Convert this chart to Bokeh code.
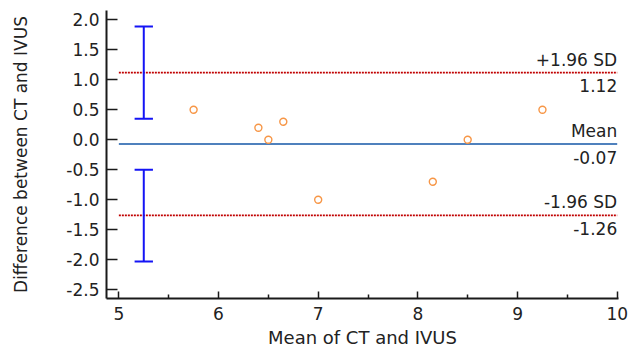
from bokeh.plotting import figure
from bokeh.models import Range1d, FixedTicker, ColumnDataSource
from bokeh.core.properties import value
from bokeh.embed import file_html
from bokeh.resources import INLINE

# ---- data ----
mean_ct_ivus = [5.75, 6.4, 6.5, 6.65, 7.0, 8.15, 8.5, 9.25]
diff_ct_ivus = [0.5, 0.2, 0.0, 0.3, -1.0, -0.7, 0.0, 0.5]

limit_names = ["+1.96 SD", "Mean", "-1.96 SD"]
limit_values = [1.12, -0.07, -1.26]
limit_x_start = 5
limit_x_end = 10

ci_x = 5.25
ci_low = [0.35, -2.03]
ci_high = [1.89, -0.5]
ci_cap_half = 0.092

x_ticks = [5, 6, 7, 8, 9, 10]
x_minor_ticks = [5.5, 6.5, 7.5, 8.5, 9.5]
x_tick_labels = ["5", "6", "7", "8", "9", "10"]
y_ticks = [2.0, 1.5, 1.0, 0.5, 0.0, -0.5, -1.0, -1.5, -2.0, -2.5]
y_tick_labels = ["2.0", "1.5", "1.0", "0.5", "0.0", "-0.5", "-1.0", "-1.5", "-2.0", "-2.5"]

x_title = "Mean of CT and IVUS"
y_title = "Difference between CT and IVUS"

FONT = "DejaVu Sans"
TXT = "#222222"

p = figure(width=631, height=352,
           x_range=Range1d(4.876, 10.013), y_range=Range1d(-2.645, 2.155),
           output_backend="svg", toolbar_location=None,
           min_border_left=106, min_border_right=13,
           min_border_top=10, min_border_bottom=54)
p.outline_line_color = None
p.xgrid.visible = False
p.ygrid.visible = False
p.background_fill_color = "white"
p.border_fill_color = "white"

# x axis
xa = p.xaxis[0]
xa.ticker = FixedTicker(ticks=x_ticks, minor_ticks=x_minor_ticks)
xa.major_label_overrides = dict(zip(x_ticks, x_tick_labels))
xa.axis_line_width = 2
xa.axis_line_color = "#1a1a1a"
xa.major_tick_in = 7
xa.major_tick_out = 0
xa.minor_tick_in = 4
xa.minor_tick_out = 0
xa.major_tick_line_width = 1.5
xa.minor_tick_line_width = 1.5
xa.major_tick_line_color = "#1a1a1a"
xa.minor_tick_line_color = "#1a1a1a"
xa.major_label_standoff = 8
xa.major_label_text_font = FONT
xa.major_label_text_font_size = "17px"
xa.major_label_text_color = TXT
xa.axis_label = x_title
xa.axis_label_standoff = 4
xa.axis_label_text_font = FONT
xa.axis_label_text_font_size = "18px"
xa.axis_label_text_font_style = "normal"
xa.axis_label_text_color = TXT

# y axis
ya = p.yaxis[0]
ya.ticker = FixedTicker(ticks=y_ticks)
ya.major_label_overrides = dict(zip(y_ticks, y_tick_labels))
ya.axis_line_width = 2
ya.axis_line_color = "#1a1a1a"
ya.major_tick_in = 11
ya.major_tick_out = 0
ya.major_tick_line_width = 1.5
ya.major_tick_line_color = "#1a1a1a"
ya.minor_tick_line_color = None
ya.major_label_standoff = 7
ya.major_label_text_font = FONT
ya.major_label_text_font_size = "17px"
ya.major_label_text_color = TXT
ya.axis_label = y_title
ya.axis_label_standoff = 32
ya.axis_label_text_font = FONT
ya.axis_label_text_font_size = "17px"
ya.axis_label_text_font_style = "normal"
ya.axis_label_text_color = TXT

# limit lines
line_colors = ["#C00000", "#4F81BD", "#C00000"]
line_dashes = ["2 1", "solid", "2 1"]
for v, c, d in zip(limit_values, line_colors, line_dashes):
    p.segment(x0=[limit_x_start], y0=[v], x1=[limit_x_end], y1=[v],
              line_color=c, line_width=2 if d == "solid" else 1.6, line_dash=d)

# confidence interval bars
p.segment(x0=[ci_x] * 2, y0=ci_low, x1=[ci_x] * 2, y1=ci_high,
          line_color="#1414F5", line_width=2)
cap_y = ci_low + ci_high
p.segment(x0=[ci_x - ci_cap_half] * 4, y0=cap_y, x1=[ci_x + ci_cap_half] * 4, y1=cap_y,
          line_color="#1414F5", line_width=2)

# data points
p.scatter(x=mean_ct_ivus, y=diff_ct_ivus, marker="circle", size=7,
          fill_color=None, line_color="#F79646", line_width=1.4)

# labels for limit lines
src = ColumnDataSource(dict(x=[limit_x_end] * 3, y=limit_values, name=limit_names,
                            val=[f"{v:.2f}" for v in limit_values]))
p.text(x="x", y="y", text="name", source=src, text_font=value(FONT),
       text_font_size="17px", text_align="right", text_baseline="alphabetic",
       y_offset=-13, text_color=TXT)
p.text(x="x", y="y", text="val", source=src, text_font=value(FONT),
       text_font_size="17px", text_align="right", text_baseline="alphabetic",
       y_offset=13, text_color=TXT)

open("out.html", "w").write(file_html(p, INLINE))
